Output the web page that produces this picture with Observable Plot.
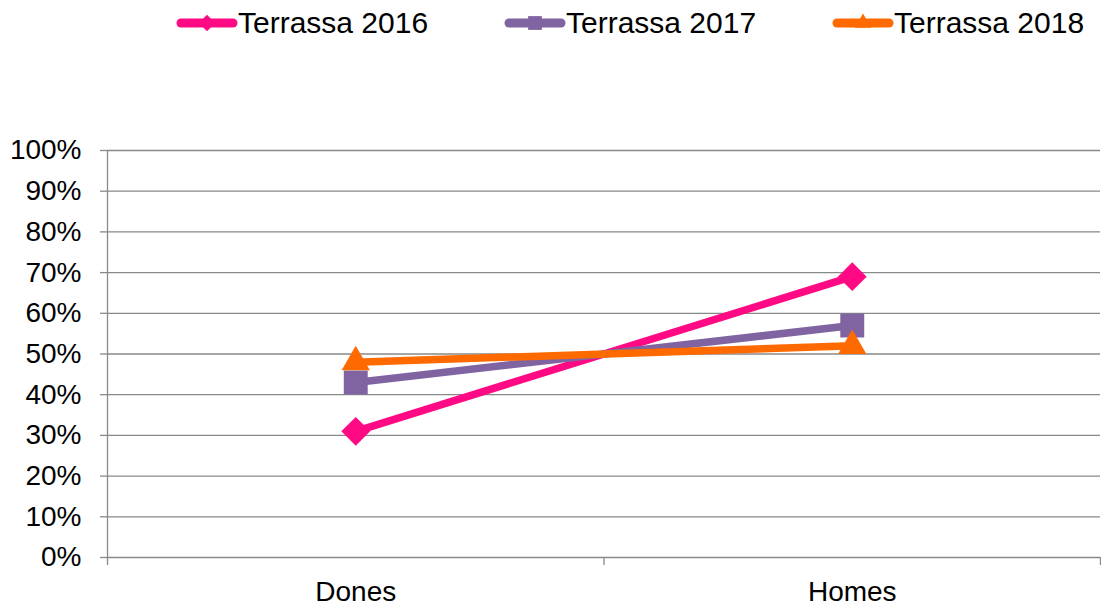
<!DOCTYPE html>
<html>
<head>
<meta charset="utf-8">
<script src="https://cdn.jsdelivr.net/npm/d3@7"></script>
<script src="https://cdn.jsdelivr.net/npm/@observablehq/plot@0.6"></script>
<style>
  html, body { margin: 0; padding: 0; background: #fff; }
  body { width: 1101px; height: 609px; overflow: hidden; font-family: "Liberation Sans", Arial, sans-serif; }
  #legend { height: 45px; display: flex; align-items: center; padding-left: 176px; box-sizing: border-box; width: 1101px; overflow: visible; }
  .item { width: 328px; flex: 0 0 328px; display: flex; align-items: center; font-size: 30px; color: #000; white-space: nowrap; }
  .item svg { display: block; margin-right: 0px; flex: 0 0 auto; }
  #chart svg { display: block; }
</style>
</head>
<body>
<div id="legend"></div>
<div id="chart"></div>
<script>
const categories = ["Dones", "Homes"];
const seriesNames = ["Terrassa 2016", "Terrassa 2017", "Terrassa 2018"];
const values2016 = [0.31, 0.69];
const values2017 = [0.43, 0.57];
const values2018 = [0.48, 0.52];
const seriesValues = [values2016, values2017, values2018];
const colors = ["#FF0A84", "#8064A2", "#FF6A00"];
const symbols = ["diamond2", "square", "triangle"];
const markerR = [13, 13.5, 10.5];
const yTicks = [0, 0.1, 0.2, 0.3, 0.4, 0.5, 0.6, 0.7, 0.8, 0.9, 1.0];
const xLabelTicks = categories.map((c, i) => i + 0.5);
const xBoundaryTicks = [0, ...categories.map((c, i) => i + 1)];

const data = [];
seriesNames.forEach((s, si) => {
  categories.forEach((c, ci) => {
    data.push({series: s, si, category: c, x: ci + 0.5, value: seriesValues[si][ci]});
  });
});

const gray = "#898989";
const font = "Liberation Sans, Arial, sans-serif";

const marks = [
  Plot.gridY(yTicks, {stroke: gray, strokeOpacity: 1, strokeWidth: 1.3}),
  Plot.axisY({ticks: yTicks, tickFormat: d3.format(".0%"), tickSize: 7, tickPadding: 19, fontSize: 28, stroke: gray, strokeWidth: 1.3, color: "#000", label: null}),
  Plot.axisX({ticks: xBoundaryTicks, tickFormat: () => "", tickSize: 8, stroke: gray, strokeWidth: 1.3, label: null}),
  Plot.axisX({ticks: xLabelTicks, tickFormat: d => categories[Math.floor(d)], tickSize: 0, tickPadding: 24, fontSize: 28, color: "#000", label: null}),
  Plot.ruleX([0], {y1: 0, y2: 1, stroke: gray, strokeWidth: 1.3})
];

seriesNames.forEach((s, si) => {
  const d = data.filter(r => r.si === si);
  marks.push(Plot.line(d, {x: "x", y: "value", stroke: colors[si], strokeWidth: 7.5}));
  marks.push(Plot.dot(d, {x: "x", y: "value", symbol: () => symbols[si], r: markerR[si], fill: colors[si], stroke: "none"}));
});

const chart = Plot.plot({
  width: 1101,
  height: 564,
  marginTop: 105,
  marginBottom: 52,
  marginLeft: 107,
  marginRight: 1,
  style: {fontFamily: font, background: "#fff", overflow: "visible"},
  x: {type: "linear", domain: [0, categories.length]},
  y: {domain: [0, 1]},
  symbol: {type: "identity"},
  marks
});
document.getElementById("chart").appendChild(chart);

// legend
const legend = d3.select("#legend");
seriesNames.forEach((s, si) => {
  const item = legend.append("div").attr("class", "item");
  const sv = item.append("svg").attr("width", 62).attr("height", 30);
  sv.append("line").attr("x1", 5).attr("x2", 57).attr("y1", 15).attr("y2", 15)
    .attr("stroke", colors[si]).attr("stroke-width", 9).attr("stroke-linecap", "round");
  const sym = d3.symbol().type(
    si === 0 ? d3.symbolDiamond2 : si === 1 ? d3.symbolSquare : d3.symbolTriangle
  ).size(si === 0 ? 170 : si === 1 ? 190 : 120);
  sv.append("path").attr("d", sym()).attr("transform", "translate(31,15)").attr("fill", colors[si]);
  item.append("span").text(s);
});
</script>
</body>
</html>
